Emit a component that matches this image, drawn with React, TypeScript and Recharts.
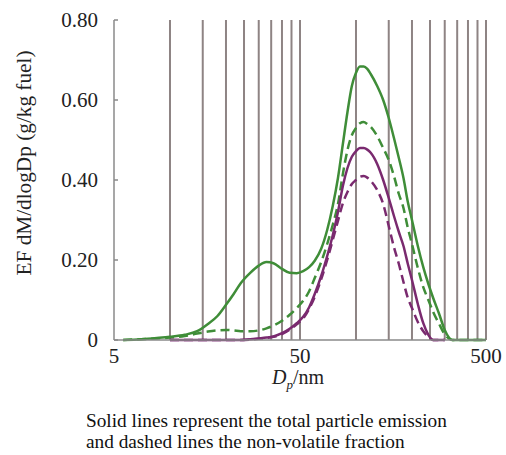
import { LineChart, Line, XAxis, YAxis, ReferenceLine } from 'recharts';

// particle diameter (nm)
const diameters = [
  5.6, 7, 8.5, 10, 12, 14, 16, 18, 20, 22, 24, 27, 30, 33, 36, 40, 44, 48, 52, 56, 60, 65, 70, 75, 80, 85, 90, 95,
  100, 105, 110, 115, 120, 130, 140, 150, 160, 170, 180, 190, 200, 215, 230, 245, 260, 280, 300, 330, 370, 420, 500,
];

// green, total (solid)
const greenTotal = [
  0, 0.002, 0.005, 0.008, 0.013, 0.022, 0.04, 0.06, 0.088, 0.115, 0.142, 0.168, 0.186, 0.195, 0.192, 0.178, 0.168,
  0.167, 0.172, 0.182, 0.198, 0.228, 0.275, 0.335, 0.405, 0.49, 0.57, 0.635, 0.668, 0.684, 0.684, 0.678, 0.665, 0.635,
  0.6, 0.555, 0.505, 0.455, 0.405, 0.345, 0.3, 0.235, 0.182, 0.14, 0.105, 0.065, 0.025, 0, 0, 0, 0,
];

// green, non-volatile (dashed)
const greenNonVol = [
  0, 0.002, 0.004, 0.006, 0.01, 0.016, 0.021, 0.024, 0.025, 0.024, 0.022, 0.022, 0.024, 0.029, 0.036, 0.048, 0.063,
  0.08, 0.098, 0.122, 0.155, 0.195, 0.24, 0.288, 0.34, 0.415, 0.475, 0.512, 0.53, 0.542, 0.545, 0.54, 0.533, 0.51,
  0.48, 0.45, 0.41, 0.365, 0.33, 0.28, 0.24, 0.18, 0.132, 0.1, 0.07, 0.04, 0.014, 0, 0, 0, 0,
];

// purple, total (solid)
const purpleTotal = [
  null, null, null, 0, 0, 0, 0, 0, 0, 0, 0, 0.002, 0.004, 0.006, 0.009, 0.017, 0.028, 0.042, 0.058, 0.082, 0.115,
  0.16, 0.21, 0.262, 0.32, 0.385, 0.43, 0.458, 0.472, 0.48, 0.48, 0.476, 0.468, 0.44, 0.4, 0.355, 0.31, 0.27, 0.235,
  0.19, 0.15, 0.09, 0.042, 0.013, 0, 0, 0, null, null, null, null,
];

// purple, non-volatile (dashed)
const purpleNonVol = [
  null, null, null, 0, 0, 0, 0, 0, 0, 0, 0, 0.001, 0.003, 0.005, 0.008, 0.015, 0.026, 0.039, 0.054, 0.078, 0.108,
  0.152, 0.2, 0.25, 0.298, 0.342, 0.37, 0.39, 0.4, 0.408, 0.41, 0.406, 0.398, 0.375, 0.34, 0.285, 0.232, 0.19, 0.145,
  0.105, 0.08, 0.045, 0.022, 0.008, 0, 0, 0, null, null, null, null,
];

// impactor stage boundaries (vertical lines)
const stageLines = [10, 15, 20, 25, 30, 35, 40, 45, 50, 100, 150, 200, 250, 300, 350, 400, 450, 500];

const xTicks = [5, 50, 500];
const yTicks = [0, 0.2, 0.4, 0.6, 0.8];

const data = diameters.map((d, i) => ({
  d,
  gt: greenTotal[i],
  gn: greenNonVol[i],
  pt: purpleTotal[i],
  pn: purpleNonVol[i],
}));

const GREEN = '#3f8d38';
const PURPLE = '#7a2a6f';
const FONT = '"Liberation Serif", "Times New Roman", serif';

const XLabel = (props: any) => {
  const vb = props.viewBox;
  const cx = vb.x + vb.width / 2 - 2;
  return (
    <text x={cx} y={vb.y + 44} textAnchor='middle' fontSize={20} fill='#222' fontFamily={FONT}>
      <tspan fontStyle='italic'>D</tspan>
      <tspan fontStyle='italic' fontSize={13} dy={5}>p</tspan>
      <tspan dy={-5}>/nm</tspan>
    </text>
  );
};

const YLabel = (props: any) => {
  const vb = props.viewBox;
  const cy = vb.y + vb.height / 2 - 17;
  const x = 31;
  return (
    <text
      x={x}
      y={cy}
      transform={`rotate(-90, ${x}, ${cy})`}
      textAnchor='middle'
      fontSize={20}
      fill='#222'
      fontFamily={FONT}
      textLength={225}
      lengthAdjust='spacingAndGlyphs'
    >
      EF dM/dlogDp (g/kg fuel)
    </text>
  );
};

export default function App() {
  return (
    <div
      style={{
        position: 'absolute',
        left: 0,
        top: 0,
        width: 506,
        height: 455,
        background: '#fff',
        fontFamily: FONT,
      }}
    >
      <LineChart width={506} height={400} data={data} margin={{ top: 20, right: 20, left: 0, bottom: 0 }}>
        <XAxis
          dataKey='d'
          type='number'
          scale='log'
          domain={[5, 500]}
          ticks={xTicks}
          allowDataOverflow
          height={60}
          tickLine={false}
          axisLine={{ stroke: '#8a8a8a', strokeWidth: 1.5 }}
          tick={{ fontSize: 21, fill: '#222', fontFamily: FONT }}
          label={XLabel}
        />
        <YAxis
          type='number'
          domain={[0, 0.8]}
          ticks={yTicks}
          width={114}
          tickSize={-4}
          tickMargin={20}
          tickFormatter={(v: number) => (v === 0 ? '0' : v.toFixed(2))}
          axisLine={{ stroke: '#8a8a8a', strokeWidth: 1.5 }}
          tickLine={{ stroke: '#8a8a8a', strokeWidth: 1.5 }}
          tick={{ fontSize: 21, fill: '#222', fontFamily: FONT }}
          label={YLabel}
        />
        {stageLines.map(v => (
          <ReferenceLine key={v} x={v} stroke='#8e8484' strokeWidth={2} ifOverflow='visible' />
        ))}
        <Line dataKey='gt' type='monotone' stroke={GREEN} strokeWidth={2.5} dot={false} isAnimationActive={false} />
        <Line
          dataKey='gn'
          type='monotone'
          stroke={GREEN}
          strokeWidth={2.5}
          strokeDasharray='9 5'
          dot={false}
          isAnimationActive={false}
        />
        <Line dataKey='pt' type='monotone' stroke={PURPLE} strokeWidth={2.5} dot={false} isAnimationActive={false} />
        <Line
          dataKey='pn'
          type='monotone'
          stroke={PURPLE}
          strokeWidth={2.5}
          strokeDasharray='9 5'
          dot={false}
          isAnimationActive={false}
        />
      </LineChart>
      <div
        style={{
          position: 'absolute',
          left: 86,
          top: 410,
          fontSize: 19.3,
          lineHeight: '21px',
          color: '#111',
          whiteSpace: 'nowrap',
        }}
      >
        Solid lines represent the total particle emission
        <br />
        and dashed lines the non-volatile fraction
      </div>
    </div>
  );
}
